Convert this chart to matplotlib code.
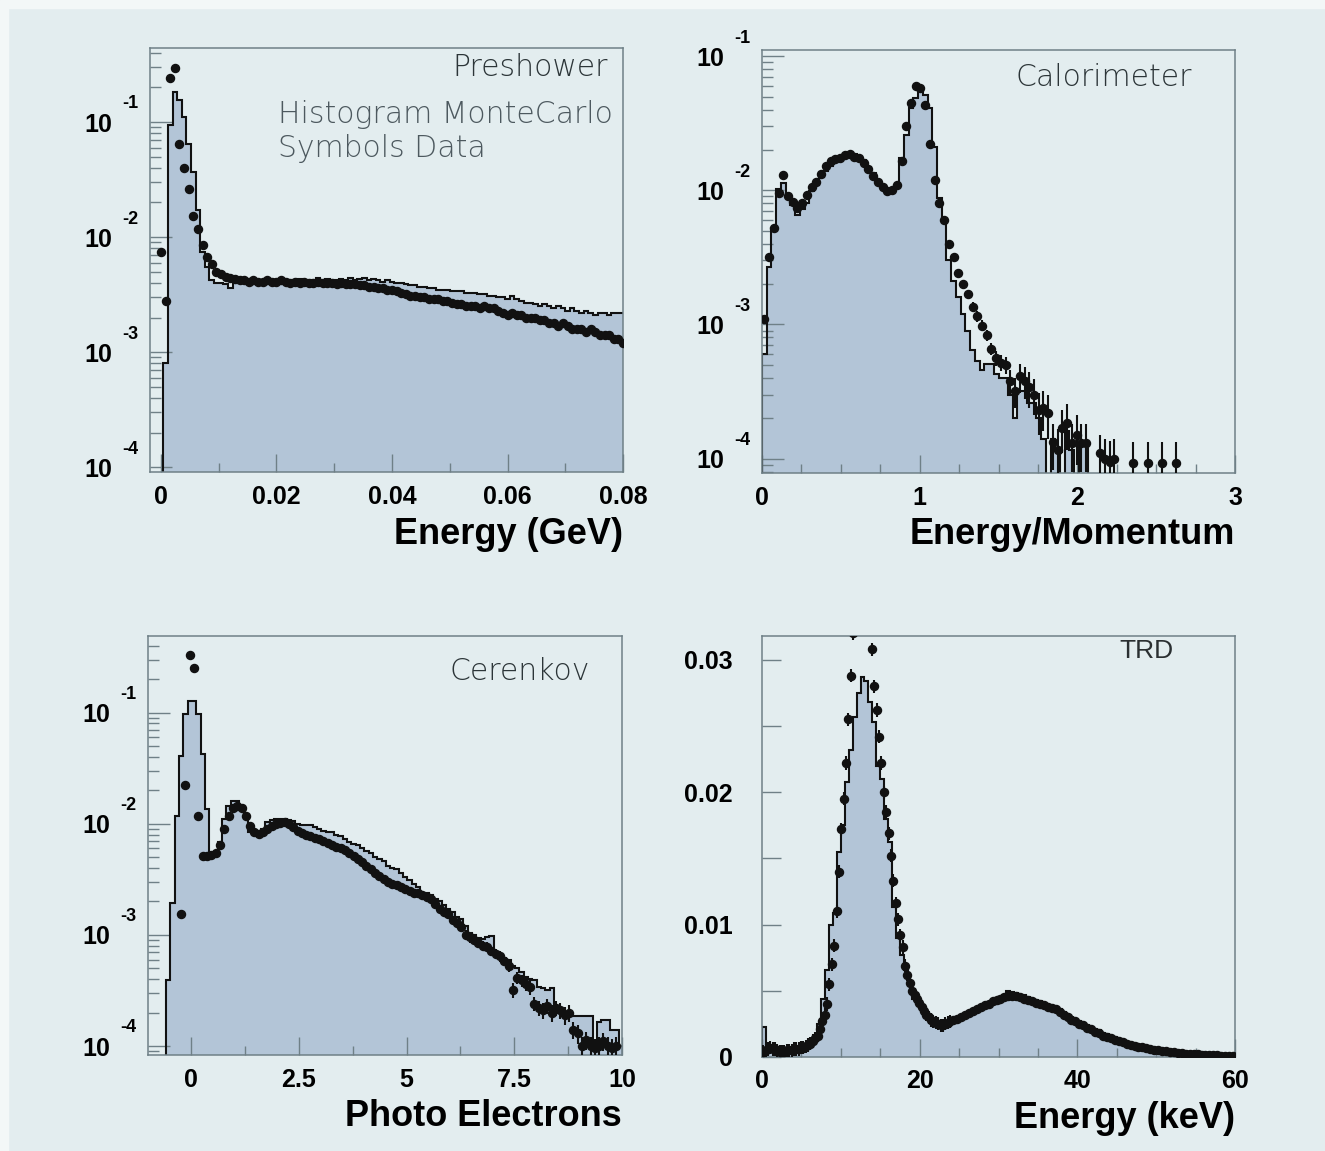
import numpy as np
import matplotlib
matplotlib.use("Agg")
import matplotlib.pyplot as plt
from matplotlib.patches import Rectangle
from matplotlib.ticker import MultipleLocator, LogLocator, NullFormatter, FixedLocator
from matplotlib.transforms import blended_transform_factory, offset_copy

# colours of the scanned page
PAGE = "#e3edef"
FILL = "#b3c5d7"
FRAME = "#6f8087"
INK = "#111111"
NOTE = "#2c3538"
NOTE2 = "#4d595f"

# -----------------------------
# Preshower: bins of 0.0008 GeV centred on k*0.0008
# -----------------------------
pre_width = 0.0008
pre_mc = [0, 0.0008, 0.094, 0.183, 0.155, 0.111, 0.065, 0.037, 0.0172, 0.0075,
          0.0055, 0.0042, 0.0040, 0.0040, 0.0039, 0.0036, 0.0040, 0.0041, 0.0040, 0.0041,
          0.0040, 0.0041, 0.0042, 0.0040, 0.0041, 0.0042, 0.0041, 0.0042, 0.0041, 0.0042,
          0.0043, 0.0041, 0.0042, 0.0042, 0.0044, 0.0042, 0.0043, 0.0042, 0.0042, 0.0043,
          0.0042, 0.0044, 0.0042, 0.0043, 0.0044, 0.0042, 0.0043, 0.0042, 0.0041, 0.0042,
          0.0041, 0.0040, 0.0040, 0.0039, 0.0038, 0.0038, 0.0037, 0.0037, 0.0036, 0.0036,
          0.0035, 0.0035, 0.0035, 0.0034, 0.0034, 0.0034, 0.0033, 0.0033, 0.0033, 0.0032,
          0.0032, 0.0031, 0.0031, 0.0030, 0.0030, 0.0029, 0.0031, 0.0029, 0.0028, 0.0027,
          0.0027, 0.0026, 0.0025, 0.0026, 0.0025, 0.0024, 0.0025, 0.0024, 0.0023, 0.0024,
          0.0023, 0.0022, 0.0023, 0.0022, 0.0021, 0.0022, 0.0022, 0.0021, 0.0022, 0.0022,
          0.0022]
pre_data = [0.0074, 0.0028, 0.24, 0.293, 0.064, 0.040, 0.026, 0.0153, 0.0117, 0.0085,
            0.0067, 0.0058, 0.0050, 0.0048, 0.0045, 0.0044, 0.0043, 0.0042, 0.0042, 0.0041,
            0.0042, 0.0041, 0.0041, 0.0042, 0.0041, 0.0041, 0.0042, 0.0041, 0.0040, 0.0041,
            0.0040, 0.0041, 0.0040, 0.0040, 0.0041, 0.0040, 0.0040, 0.0040, 0.0039, 0.0040,
            0.0039, 0.0039, 0.0039, 0.0038, 0.0038, 0.0037, 0.0037, 0.0036, 0.0036, 0.0035,
            0.0035, 0.0034, 0.0033, 0.0032, 0.0031, 0.0031, 0.0030, 0.0030, 0.0029, 0.0029,
            0.0029, 0.0028, 0.0028, 0.0027, 0.0026, 0.0026, 0.0025, 0.0025, 0.0025, 0.0024,
            0.0025, 0.0024, 0.0024, 0.0023, 0.0022, 0.0021, 0.0022, 0.0021, 0.0021, 0.0020,
            0.0020, 0.0020, 0.0019, 0.0019, 0.0018, 0.0018, 0.0017, 0.0018, 0.0017, 0.0016,
            0.0016, 0.0016, 0.0015, 0.0016, 0.0015, 0.0014, 0.0014, 0.0014, 0.0013, 0.0013,
            0.0012]

# -----------------------------
# Calorimeter: E/p in bins of 0.03 from 0 to 3
# -----------------------------
cal_width = 0.03
cal_mc = [0.0006, 0.0027, 0.0052, 0.0103, 0.0113, 0.0090, 0.0078, 0.0065, 0.0073, 0.0080,
          0.0098, 0.0110, 0.0125, 0.0140, 0.0152, 0.0164, 0.0172, 0.0175, 0.0186, 0.0186,
          0.0178, 0.0168, 0.0150, 0.0135, 0.0118, 0.0108, 0.0100, 0.0098, 0.0110, 0.0173,
          0.0259, 0.0409, 0.0486, 0.0561, 0.0514, 0.0409, 0.0212, 0.0087, 0.0058, 0.0030,
          0.0021, 0.0016, 0.0012, 0.0009, 0.00065, 0.00053, 0.00046, 0.00051, 0.00051, 0.00043,
          0.00040, 0.00040, 0.00030, 0.00020, 0.00032, 0.00032, 0.00026, 0.00026, 0.00020, 0.00014,
          0, 0.00014, 0.000115, 0, 0.00016, 0.000115, 0, 0.00013, 0.00013, 0,
          0, 0, 0, 0, 0, 0, 0, 0, 0, 0,
          0, 0, 0, 0, 0, 0, 0, 0, 0, 0,
          0, 0, 0, 0, 0, 0, 0, 0, 0, 0]
cal_data = [0.0011, 0.0032, 0.0052, 0.0095, 0.0130, 0.0090, 0.0082, 0.0074, 0.0080, 0.0092,
            0.0106, 0.0116, 0.0132, 0.0152, 0.0164, 0.0170, 0.0174, 0.0182, 0.0185, 0.0178,
            0.0174, 0.0160, 0.0143, 0.0127, 0.0115, 0.0106, 0.0098, 0.0100, 0.0110, 0.0165,
            0.0300, 0.0450, 0.0600, 0.0580, 0.0430, 0.0220, 0.0120, 0.0080, 0.0060, 0.0040,
            0.0032, 0.0024, 0.0020, 0.0017, 0.00135, 0.00115, 0.00098, 0.00083, 0.00066, 0.00056,
            0.00052, 0.00050, 0.00038, 0.00032, 0.00041, 0.00038, 0.00034, 0.00030, 0.00023, 0.00024,
            0.00022, 0.000132, 0.000115, 0.00017, 0.000185, 0.00013, 0.00015, 0.00013, 0.00013, 0,
            0, 0.00011, 0.0001, 0.000095, 0.0001, 0, 0, 0, 0.000093, 0,
            0, 0.000093, 0, 0, 0.000093, 0, 0, 0.000093, 0, 0,
            0, 0, 0, 0, 0, 0, 0, 0, 0, 0]
cal_err = [0.0] * 44 + [
    0.00012, 0.0001, 0.00009, 0.00008, 0.00007, 0.00007, 0.00007, 0.00007, 0.00008, 0.00008,
    0.0001, 0.0001, 0.0001, 0.00009, 0.00008, 0.00008, 0.00008, 0.00005, 0.00005, 0.00006,
    0.00007, 0.00005, 0.00006, 0.00005, 0.00005, 0, 0, 0.00004, 0.00004, 0.00004,
    0.00004, 0, 0, 0, 0.00004, 0, 0, 0.00004, 0, 0,
    0.00004, 0, 0, 0.00004, 0, 0, 0, 0, 0, 0,
    0, 0, 0, 0, 0, 0]

# -----------------------------
# Cerenkov: photo electrons, bins of 0.1 starting at -0.58
# -----------------------------
cer_start = -0.58
cer_width = 0.1
cer_mc = [0.00039, 0.00195, 0.0118, 0.041, 0.097, 0.128, 0.128, 0.097, 0.0425, 0.0136,
          0.0052, 0.0053, 0.0068, 0.0110, 0.0145, 0.0161, 0.0161, 0.0145, 0.0112, 0.0085,
          0.0083, 0.0083, 0.0089, 0.0103, 0.0108, 0.0110, 0.0111, 0.0110, 0.0108, 0.0105,
          0.0100, 0.0098, 0.0097, 0.0098, 0.0094, 0.0090, 0.0086, 0.0085, 0.0085, 0.0080,
          0.0077, 0.0073, 0.0068, 0.0066, 0.0064, 0.0060, 0.0057, 0.0055, 0.0050, 0.0048,
          0.0046, 0.0042, 0.0040, 0.0039, 0.0036, 0.0033, 0.0031, 0.0029, 0.0027, 0.0024,
          0.0024, 0.0023, 0.0021, 0.0020, 0.00186, 0.0017, 0.0016, 0.00145, 0.0014, 0.0012,
          0.00105, 0.0010, 0.00093, 0.00092, 0.00095, 0.00098, 0.00068, 0.00066, 0.00062, 0.00060,
          0.00052, 0.00050, 0.00046, 0.00042, 0.00040, 0.00039, 0.00034, 0.00033, 0.00032, 0.00033,
          0.00021, 0.00020, 0.00019, 0.00020, 0.000187, 0.000187, 0.000187, 0.000187, 0.000187, 0.000106,
          0.000166, 0.00017, 0.00017, 0.00014, 0.00014, 0.0001]
cer_data = [0, 0, 0, 0.00153, 0.0225, 0.331, 0.253, 0.0118, 0.0051, 0.0051,
            0.0052, 0.0055, 0.0065, 0.0090, 0.0118, 0.0140, 0.0146, 0.0140, 0.0118, 0.0096,
            0.0084, 0.0081, 0.0085, 0.0090, 0.0095, 0.0099, 0.0101, 0.0103, 0.0100, 0.0094,
            0.0086, 0.0082, 0.0080, 0.0078, 0.0075, 0.0073, 0.0070, 0.0067, 0.0064, 0.0062,
            0.0060, 0.0058, 0.0055, 0.0051, 0.0048, 0.0045, 0.0042, 0.0039, 0.0036, 0.0034,
            0.0032, 0.0030, 0.0029, 0.0028, 0.0027, 0.0026, 0.0025, 0.0024, 0.0024, 0.0023,
            0.0022, 0.0021, 0.0019, 0.0017, 0.00162, 0.00155, 0.00136, 0.00128, 0.00119, 0.0010,
            0.00095, 0.0009, 0.00085, 0.0008, 0.00078, 0.00071, 0.00068, 0.00064, 0.00058, 0.00052,
            0.00032, 0.00041, 0.00039, 0.00036, 0.00034, 0.00024, 0.00022, 0.00021, 0.00023, 0.0002,
            0.00022, 0.00021, 0.00019, 0.0002, 0.00014, 0.00013, 0.0001, 0.000113, 0.0001, 0.000095,
            0.0001, 0.00011, 0.0001, 0.000095, 0.0001, 0]
cer_err = [0.0] * 59 + [
    0.00018, 0.00017, 0.00016, 0.00015, 0.00014, 0.00013, 0.00012, 0.00011, 0.0001, 0.0001,
    0.0001, 0.0001, 0.00009, 0.00009, 0.00008, 0.00008, 0.00007, 0.00007, 0.00007, 0.00006,
    0.00006, 0.00005, 0.00005, 0.00005, 0.00005, 0.00005, 0.000035, 0.000035, 0.000035, 0.000035,
    0.000035, 0.000035, 0.000035, 0.000035, 0.000035, 0.000025, 0.000025, 0.00002, 0.00002, 0.00002,
    0.00002, 0.00002, 0.00002, 0.00002, 0.00002, 0.00002, 0]

# -----------------------------
# TRD: energy in keV, MC in 0.5 keV bins, data in 0.3 keV (< 24 keV) and 0.5 keV steps
# -----------------------------
trd_width = 0.5
trd_mc = [0.0023, 0.00096, 0.0005, 0.00045, 0.00042, 0.00042, 0.00045, 0.0005, 0.00055, 0.0006,
          0.0008, 0.0010, 0.0012, 0.00146, 0.0025, 0.0044, 0.0066, 0.0100, 0.0109, 0.0155,
          0.0175, 0.0208, 0.0232, 0.0257, 0.0275, 0.0287, 0.0284, 0.0268, 0.0253, 0.0220,
          0.0210, 0.0180, 0.0162, 0.0113, 0.0090, 0.0077, 0.0066, 0.0054, 0.0044, 0.0040,
          0.0038, 0.0034, 0.0031, 0.0029, 0.0027, 0.0026, 0.0025, 0.0026, 0.0027, 0.0028,
          0.0030, 0.0031, 0.0033, 0.0035, 0.0036, 0.0038, 0.0039, 0.0041, 0.0042, 0.0044,
          0.0045, 0.0047, 0.0050, 0.0049, 0.0048, 0.0047, 0.0047, 0.0045, 0.0044, 0.0043,
          0.0042, 0.0040, 0.0039, 0.0038, 0.0037, 0.0036, 0.0034, 0.0032, 0.0030, 0.0029,
          0.0027, 0.0026, 0.0024, 0.0023, 0.0021, 0.0020, 0.0018, 0.0017, 0.0016, 0.0015,
          0.0013, 0.0012, 0.0011, 0.0010, 0.00095, 0.00088, 0.0008, 0.00075, 0.00068, 0.00063,
          0.00057, 0.00053, 0.00048, 0.00045, 0.00041, 0.00038, 0.00034, 0.00031, 0.00028, 0.00026,
          0.00023, 0.00021, 0.00019, 0.00017, 0.00015, 0.00013, 0.00012, 0.0001, 0.00009, 0.00008]
trd_lo_start, trd_lo_step = 0.15, 0.3
trd_data_lo = [0.0004, 0.0005, 0.0006, 0.0007, 0.0006, 0.0006, 0.0005, 0.0004, 0.0004, 0.0004,
               0.0005, 0.0005, 0.0005, 0.0006, 0.0006, 0.0006, 0.0007, 0.0007, 0.0008, 0.0009,
               0.0010, 0.0012, 0.0014, 0.0016, 0.0021, 0.0027, 0.0032, 0.0040, 0.0055, 0.0070,
               0.0084, 0.0110, 0.0140, 0.0172, 0.0195, 0.0222, 0.0255, 0.0288, 0.0320, 0.0345,
               0.0360, 0.0365, 0.0368, 0.0365, 0.0355, 0.0340, 0.0308, 0.0280, 0.0262, 0.0242,
               0.0222, 0.0200, 0.0185, 0.0169, 0.0152, 0.0133, 0.0116, 0.0104, 0.0092, 0.0083,
               0.0069, 0.0062, 0.0056, 0.0050, 0.0047, 0.0044, 0.0041, 0.0038, 0.0035, 0.0032,
               0.0030, 0.0028, 0.0027, 0.0026, 0.0025, 0.0024, 0.0024, 0.0025, 0.0026, 0.0027]
trd_hi_start, trd_hi_step = 24.25, 0.5
trd_data_hi = [0.0028, 0.0029, 0.0030, 0.0032, 0.0033, 0.0035, 0.0036, 0.0038, 0.0039, 0.0040,
               0.0042, 0.0043, 0.0044, 0.0045, 0.0046, 0.0046, 0.0046, 0.0045, 0.0044, 0.0043,
               0.0042, 0.0041, 0.0040, 0.0039, 0.0038, 0.0037, 0.0036, 0.0034, 0.0032, 0.0030,
               0.0028, 0.0027, 0.0025, 0.0024, 0.0022, 0.0021, 0.0019, 0.0018, 0.0016, 0.0015,
               0.0014, 0.0013, 0.0012, 0.0011, 0.0010, 0.00092, 0.00085, 0.00079, 0.00072, 0.00066,
               0.00060, 0.00055, 0.00050, 0.00046, 0.00042, 0.00038, 0.00035, 0.00032, 0.00029, 0.00026,
               0.00024, 0.00022, 0.00020, 0.00018, 0.00016, 0.00015, 0.00013, 0.00012, 0.00011, 0.00010,
               0.00009, 0.00008]
trd_err = 0.0005

# tick labels and titles
pre_xticks = [0, 0.02, 0.04, 0.06, 0.08]
pre_xlabels = ["0", "0.02", "0.04", "0.06", "0.08"]
cal_xticks = [0, 1, 2, 3]
cal_xlabels = ["0", "1", "2", "3"]
cer_xticks = [0, 2.5, 5, 7.5, 10]
cer_xlabels = ["0", "2.5", "5", "7.5", "10"]
trd_xticks = [0, 20, 40, 60]
trd_xlabels = ["0", "20", "40", "60"]
trd_yticks = [0, 0.01, 0.02, 0.03]
trd_ylabels = ["0", "0.01", "0.02", "0.03"]
decades = [1e-4, 1e-3, 1e-2, 1e-1]
exponents = ["-4", "-3", "-2", "-1"]

BOLD = dict(family=["Liberation Sans", "DejaVu Sans"], weight="bold")
THIN = dict(family=["DejaVu Sans"], weight="light")

fig = plt.figure(figsize=(13.25, 11.51), dpi=100, facecolor=PAGE)
# pale margins of the scan
fig.patches.append(Rectangle((0, 0.993), 1, 0.007, transform=fig.transFigure,
                             color="#f3f7f7", zorder=0))
fig.patches.append(Rectangle((0, 0), 0.006, 1, transform=fig.transFigure,
                             color="#f3f7f7", zorder=0))


def frame(ax, xticks, xlabels, xminor, xlabel):
    ax.set_facecolor(PAGE)
    for s in ax.spines.values():
        s.set_color(FRAME)
        s.set_linewidth(1.1)
    ax.set_xticks(xticks)
    ax.set_xticklabels(xlabels, fontsize=18, **BOLD)
    ax.xaxis.set_minor_locator(MultipleLocator(xminor))
    ax.tick_params(which="both", direction="in", top=False, right=False,
                   color=FRAME, width=1.0)
    ax.tick_params(axis="x", which="major", length=13, pad=9)
    ax.tick_params(axis="x", which="minor", length=6.5)
    ax.set_xlabel(xlabel, loc="right", fontsize=26, **BOLD)
    ax.xaxis.set_label_coords(1.0, -0.105)


def log_axis(ax, ylim):
    ax.set_yscale("log")
    ax.set_ylim(*ylim)
    ax.yaxis.set_major_locator(FixedLocator(decades))
    ax.yaxis.set_minor_locator(LogLocator(base=10, subs=np.arange(2, 10)))
    ax.yaxis.set_minor_formatter(NullFormatter())
    ax.set_yticklabels(["10"] * len(decades), fontsize=18, **BOLD)
    ax.tick_params(axis="y", which="major", length=16, pad=27)
    ax.tick_params(axis="y", which="minor", length=8)
    tr = offset_copy(blended_transform_factory(ax.transAxes, ax.transData),
                     fig=fig, x=0, y=13, units="points")
    lo, hi = ax.get_ylim()
    for d, e in zip(decades, exponents):
        if lo <= d <= hi:
            ax.text(-0.058, d, e, transform=tr, ha="left", va="center",
                    fontsize=13, **BOLD)


def histogram(ax, edges, values, base):
    v = np.asarray(values, dtype=float)
    v = np.where(v > 0, v, base)
    ax.stairs(v, edges, baseline=base, fill=True, color=FILL, zorder=1)
    ax.stairs(v, edges, baseline=base, fill=False, color=INK, lw=1.5, zorder=2)


def points(ax, x, y, err=None):
    x = np.asarray(x, dtype=float)
    y = np.asarray(y, dtype=float)
    m = y > 0
    e = None if err is None else (np.asarray(err, dtype=float)[m] if np.ndim(err) else err)
    ax.errorbar(x[m], y[m], yerr=e, fmt="o", ms=5.8, color=INK, mec=INK,
                elinewidth=1.5, capsize=0, zorder=3)


def note(ax, x, y, s, ha="right", color=NOTE):
    ax.text(x, y, s, transform=ax.transAxes, ha=ha, va="center", fontsize=21.5,
            color=color, zorder=4, **THIN)


# --- Preshower
ax1 = fig.add_axes([0.1132, 0.5899, 0.357, 0.3684])
n = len(pre_mc)
edges = (np.arange(n + 1) - 0.5) * pre_width
centres = np.arange(n) * pre_width
histogram(ax1, edges, pre_mc, 1e-8)
points(ax1, centres, pre_data)
ax1.set_xlim(-0.0019, 0.08)
log_axis(ax1, (9.1e-5, 0.44))
frame(ax1, pre_xticks, pre_xlabels, 0.01, "Energy (GeV)")
note(ax1, 0.968, 0.953, "Preshower")
note(ax1, 0.27, 0.844, "Histogram MonteCarlo", ha="left", color=NOTE2)
note(ax1, 0.27, 0.764, "Symbols Data", ha="left", color=NOTE2)

# --- Calorimeter
ax2 = fig.add_axes([0.5751, 0.589, 0.357, 0.3675])
n = len(cal_mc)
edges = np.arange(n + 1) * cal_width
centres = edges[:-1] + cal_width / 2
histogram(ax2, edges, cal_mc, 1e-8)
points(ax2, centres, cal_data, cal_err)
ax2.set_xlim(0, 3)
log_axis(ax2, (7.8e-5, 0.111))
frame(ax2, cal_xticks, cal_xlabels, 0.25, "Energy/Momentum")
note(ax2, 0.909, 0.934, "Calorimeter")

# --- Cerenkov
ax3 = fig.add_axes([0.1117, 0.0834, 0.3577, 0.364])
n = len(cer_mc)
edges = cer_start + np.arange(n + 1) * cer_width
centres = edges[:-1] + cer_width / 2
histogram(ax3, edges, cer_mc, 1e-8)
points(ax3, centres, cer_data, cer_err)
ax3.set_xlim(-1, 10)
log_axis(ax3, (8.3e-5, 0.49))
frame(ax3, cer_xticks, cer_xlabels, 1.25, "Photo Electrons")
note(ax3, 0.932, 0.916, "Cerenkov")

# --- TRD
ax4 = fig.add_axes([0.5751, 0.0817, 0.357, 0.3658])
n = len(trd_mc)
edges = np.arange(n + 1) * trd_width
histogram(ax4, edges, trd_mc, 0.0)
points(ax4, trd_lo_start + np.arange(len(trd_data_lo)) * trd_lo_step, trd_data_lo, trd_err)
points(ax4, trd_hi_start + np.arange(len(trd_data_hi)) * trd_hi_step, trd_data_hi)
ax4.set_xlim(0, 60)
ax4.set_ylim(0, 0.0318)
frame(ax4, trd_xticks, trd_xlabels, 5, "Energy (keV)")
ax4.set_yticks(trd_yticks)
ax4.set_yticklabels(trd_ylabels, fontsize=18, **BOLD)
ax4.yaxis.set_minor_locator(MultipleLocator(0.005))
ax4.tick_params(axis="y", which="both", length=14, pad=21)
ax4.text(0.869, 0.964, "TRD", transform=ax4.transAxes, ha="right", va="center",
         fontsize=19, color="#2a2f31", family=["Liberation Sans", "DejaVu Sans"])

fig.savefig("out.png", dpi=100, facecolor=PAGE)
